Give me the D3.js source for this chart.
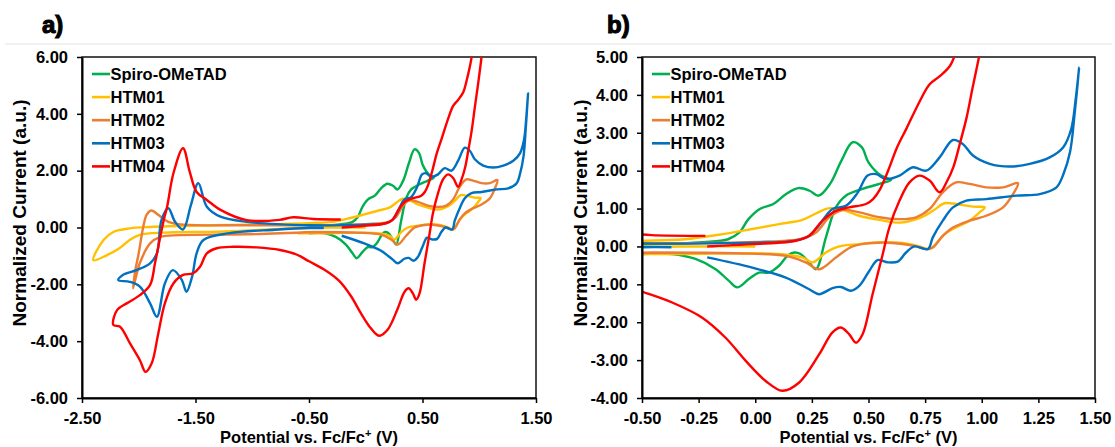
<!DOCTYPE html>
<html lang="en">
<head>
<meta charset="utf-8">
<title>Cyclic voltammetry</title>
<style>
  body { margin: 0; background: #fff; font-family: "Liberation Sans", Arial, sans-serif; }
  .tick text { font-size: 16.5px; font-weight: bold; fill: #000; font-family: "Liberation Sans", Arial, sans-serif; }
  .tick line { stroke: #000; stroke-width: 1.5px; }
  .domain { stroke: #000; stroke-width: 2px; }
  .title { font-size: 16.5px; font-weight: bold; fill: #000; }
  .ytitle { font-size: 19px; font-weight: bold; fill: #000; }
  .panel-label { font-size: 24px; font-weight: bold; fill: #000; stroke: #000; stroke-width: 1.1px; }
  .legend text { font-size: 16.5px; font-weight: bold; fill: #000; }
</style>
</head>
<body>
<svg id="chart" width="1115" height="447"></svg>
<script src="https://d3js.org/d3.v7.min.js"></script>
<script>

// series names and colours
var seriesNames = ["Spiro-OMeTAD", "HTM01", "HTM02", "HTM03", "HTM04"];
var seriesColors = ["#00B050", "#FFC000", "#ED7D31", "#0070C0", "#FF0000"];

// potential (V), normalized current (a.u.)
var spiro = [[-0.50, 0.05], [-0.23, 0.11], [-0.12, 0.19], [-0.07, 0.37], [-0.03, 0.72], [0.02, 0.99],
  [0.08, 1.12], [0.135, 1.38], [0.19, 1.54], [0.24, 1.47], [0.28, 1.34], [0.33, 1.65], [0.38, 2.26],
  [0.43, 2.75], [0.47, 2.62], [0.50, 2.22], [0.555, 1.87], [0.60, 1.76], [0.548, 1.65], [0.474, 1.52],
  [0.40, 1.34], [0.356, 1.03], [0.312, 0.24], [0.268, -0.6], [0.238, -0.42], [0.20, -0.2], [0.172, -0.16],
  [0.142, -0.25], [0.105, -0.51], [0.06, -0.69], [0.017, -0.69], [-0.028, -0.86], [-0.08, -1.08],
  [-0.116, -0.91], [-0.175, -0.6], [-0.264, -0.33], [-0.367, -0.2], [-0.5, -0.2]];

var htm01 = [[0.0, 0.0], [-0.25, 0.0], [-0.5, -0.01], [-0.9, -0.08], [-1.3, -0.15], [-1.78, -0.18],
  [-1.99, -0.26], [-2.08, -0.44], [-2.17, -0.73], [-2.28, -0.97], [-2.40, -1.15], [-2.31, -0.44],
  [-2.22, -0.15], [-2.08, -0.03], [-1.9, 0.02], [-1.34, 0.08], [-0.8, 0.12], [-0.5, 0.15], [-0.31, 0.19],
  [-0.16, 0.31], [-0.013, 0.46], [0.105, 0.59], [0.208, 0.70], [0.268, 0.87], [0.327, 1.01], [0.40, 0.94],
  [0.459, 0.81], [0.548, 0.70], [0.637, 0.63], [0.725, 0.75], [0.784, 0.94], [0.836, 1.14], [0.887, 1.12],
  [0.961, 1.05], [1.013, 1.03], [0.99, 0.9], [0.946, 0.68], [0.873, 0.46], [0.828, 0.28], [0.79, 0.02],
  [0.77, -0.07], [0.725, 0.0], [0.651, 0.09], [0.548, 0.11], [0.459, 0.06], [0.371, 0.0], [0.312, -0.16],
  [0.253, -0.42], [0.208, -0.29], [0.105, -0.2], [-0.042, -0.18], [-0.308, -0.2], [-0.6, -0.2]];

var htm02 = [[-0.45, -0.16], [-1.05, -0.24], [-1.64, -0.27], [-1.81, -0.33], [-1.9, -0.56], [-1.99, -1.25],
  [-2.05, -2.14], [-2.03, -1.5], [-2.0, -0.9], [-1.96, 0.03], [-1.93, 0.45], [-1.89, 0.6], [-1.82, 0.42],
  [-1.74, 0.2], [-1.6, 0.1], [-1.0, 0.08], [-0.5, 0.08], [0.0, 0.12], [0.2, 0.2], [0.268, 0.37],
  [0.327, 0.77], [0.386, 0.96], [0.459, 0.9], [0.548, 0.77], [0.637, 0.72], [0.71, 0.77], [0.77, 0.99],
  [0.828, 1.43], [0.887, 1.69], [0.946, 1.65], [1.02, 1.56], [1.094, 1.56], [1.16, 1.67], [1.138, 1.38],
  [1.094, 1.03], [1.02, 0.81], [0.946, 0.68], [0.873, 0.5], [0.828, 0.28], [0.784, -0.03], [0.755, -0.07],
  [0.696, 0.02], [0.607, 0.09], [0.518, 0.09], [0.43, 0.0], [0.356, -0.29], [0.282, -0.6], [0.223, -0.42],
  [0.135, -0.25], [-0.087, -0.18], [-0.45, -0.16]];

var htm03 = [[-0.37, -0.02], [-0.5, -0.02], [-0.8, -0.08], [-1.2, -0.2], [-1.43, -0.44], [-1.49, -0.91],
  [-1.53, -1.73], [-1.58, -2.26], [-1.62, -1.85], [-1.70, -1.5], [-1.77, -1.97], [-1.84, -3.14],
  [-1.90, -2.67], [-1.99, -2.08], [-2.08, -1.91], [-2.18, -1.85], [-2.14, -1.67], [-2.02, -1.5],
  [-1.90, -1.26], [-1.84, -0.91], [-1.80, 0.26], [-1.74, 0.68], [-1.68, 0.2], [-1.61, -0.07],
  [-1.54, 0.8], [-1.475, 1.56], [-1.40, 0.73], [-1.28, 0.38], [-1.05, 0.2], [-0.5, 0.08], [0.0, 0.1],
  [0.15, 0.13], [0.23, 0.25], [0.28, 0.55], [0.341, 0.99], [0.40, 1.07], [0.45, 1.4], [0.496, 1.87],
  [0.533, 1.91], [0.577, 1.78], [0.637, 1.87], [0.696, 2.09], [0.755, 2.0], [0.814, 2.35], [0.873, 2.81],
  [0.917, 2.7], [0.961, 2.4], [1.035, 2.18], [1.124, 2.11], [1.212, 2.18], [1.30, 2.35], [1.36, 2.62],
  [1.395, 3.1], [1.415, 3.9], [1.43, 4.72], [1.41, 3.5], [1.39, 2.5], [1.36, 1.9], [1.33, 1.56],
  [1.256, 1.38], [1.153, 1.34], [1.02, 1.25], [0.932, 1.21], [0.873, 1.03], [0.828, 0.68], [0.784, 0.24],
  [0.762, -0.07], [0.703, 0.0], [0.666, -0.16], [0.629, -0.4], [0.585, -0.42], [0.54, -0.36],
  [0.504, -0.64], [0.459, -1.04], [0.422, -1.17], [0.378, -1.07], [0.341, -1.1], [0.282, -1.26],
  [0.238, -1.13], [0.135, -0.82], [-0.013, -0.56], [-0.212, -0.29]];

var htm04 = [[-0.22, 0.28], [-0.46, 0.30], [-0.64, 0.36], [-0.76, 0.27], [-1.05, 0.26], [-1.28, 0.62],
  [-1.40, 0.97], [-1.49, 1.25], [-1.55, 1.95], [-1.61, 2.79], [-1.695, 1.9], [-1.75, 0.73], [-1.78, 0.26],
  [-1.81, -0.32], [-1.857, -1.26], [-1.90, -2.02], [-1.99, -2.38], [-2.106, -2.67], [-2.19, -2.9],
  [-2.224, -3.43], [-2.165, -3.49], [-2.077, -4.08], [-1.99, -4.67], [-1.94, -5.08], [-1.886, -4.78],
  [-1.828, -3.73], [-1.77, -2.67], [-1.695, -1.97], [-1.61, -1.67], [-1.52, -1.61], [-1.46, -1.38],
  [-1.40, -0.91], [-1.313, -0.73], [-1.167, -0.68], [-0.96, -0.7], [-0.756, -0.79], [-0.61, -0.95],
  [-0.5, -1.19], [-0.367, -1.48], [-0.234, -1.88], [-0.131, -2.41], [-0.042, -3.02], [0.046, -3.55],
  [0.12, -3.81], [0.194, -3.59], [0.282, -2.85], [0.341, -2.27], [0.378, -2.14], [0.415, -2.32],
  [0.445, -2.54], [0.474, -2.32], [0.518, -1.26], [0.563, -0.2], [0.592, 0.5], [0.637, 1.21],
  [0.681, 1.69], [0.725, 1.87], [0.77, 1.74], [0.814, 1.43], [0.845, 1.7], [0.875, 2.1], [0.905, 2.75],
  [0.933, 3.4], [0.96, 4.2], [0.989, 5.03], [1.02, 6.0], [1.035, 6.6], [0.95, 6.6], [0.933, 6.0],
  [0.89, 5.19], [0.86, 4.77], [0.816, 4.5], [0.77, 4.28], [0.727, 3.84], [0.669, 3.13], [0.625, 2.6],
  [0.586, 1.99], [0.55, 1.5], [0.52, 1.25], [0.489, 1.12], [0.415, 1.03], [0.356, 0.94], [0.297, 0.68],
  [0.238, 0.28], [0.179, 0.15], [-0.013, 0.06], [-0.212, 0.0]];

var allSeries = [spiro, htm01, htm02, htm03, htm04];

// tick values
var xTicksA = [-2.5, -1.5, -0.5, 0.5, 1.5];
var yTicksA = [-6, -4, -2, 0, 2, 4, 6];
var xTicksB = [-0.5, -0.25, 0, 0.25, 0.5, 0.75, 1.0, 1.25, 1.5];
var yTicksB = [-4, -3, -2, -1, 0, 1, 2, 3, 4, 5];

var panels = [
  { label: "a)", labelX: 42, left: 82, right: 536, top: 57, bottom: 398,
    xDomain: [-2.5, 1.5], yDomain: [-6, 6], xTicks: xTicksA, yTicks: yTicksA, yTitleX: 19 },
  { label: "b)", labelX: 607, left: 642, right: 1095, top: 57, bottom: 398,
    xDomain: [-0.5, 1.5], yDomain: [-4, 5], xTicks: xTicksB, yTicks: yTicksB, yTitleX: 580 }
];

var svg = d3.select("#chart");
svg.append("rect").attr("width", 1115).attr("height", 447).attr("fill", "#fff");

// faint frame line under the panel letters
svg.append("line")
  .attr("x1", 5).attr("x2", 1112).attr("y1", 44).attr("y2", 44)
  .attr("stroke", "#e4e4e4").attr("stroke-width", 1);

var fmt = function (d) { return d.toFixed(2); };

panels.forEach(function (p, pi) {
  var x = d3.scaleLinear().domain(p.xDomain).range([p.left, p.right]);
  var y = d3.scaleLinear().domain(p.yDomain).range([p.bottom, p.top]);
  var g = svg.append("g");

  var clipId = "clip" + pi;
  g.append("clipPath").attr("id", clipId)
    .append("rect")
    .attr("x", p.left).attr("y", p.top)
    .attr("width", p.right - p.left).attr("height", p.bottom - p.top);

  // plot frame
  g.append("rect")
    .attr("x", p.left).attr("y", p.top)
    .attr("width", p.right - p.left).attr("height", p.bottom - p.top)
    .attr("fill", "none").attr("stroke", "#111").attr("stroke-width", 1.5);

  var line = d3.line()
    .x(function (d) { return x(d[0]); })
    .y(function (d) { return y(d[1]); })
    .curve(d3.curveCatmullRom.alpha(0.5));

  var curves = g.append("g").attr("clip-path", "url(#" + clipId + ")");
  allSeries.forEach(function (s, i) {
    curves.append("path")
      .attr("d", line(s))
      .attr("fill", "none")
      .attr("stroke", seriesColors[i])
      .attr("stroke-width", 2.4)
      .attr("stroke-linejoin", "round");
  });

  g.append("g")
    .attr("transform", "translate(0," + p.bottom + ")")
    .call(d3.axisBottom(x).tickValues(p.xTicks).tickFormat(fmt).tickSize(5).tickSizeOuter(0).tickPadding(9));

  g.append("g")
    .attr("transform", "translate(" + p.left + ",0)")
    .call(d3.axisLeft(y).tickValues(p.yTicks).tickFormat(fmt).tickSize(5).tickSizeOuter(0).tickPadding(9));

  // axis titles
  g.append("text")
    .attr("class", "title")
    .attr("x", (p.left + p.right) / 2)
    .attr("y", 443)
    .attr("text-anchor", "middle")
    .text("Potential vs. Fc/Fc");
  g.select("text.title")
    .append("tspan").attr("dy", -6).attr("font-size", 11).text("+");
  g.select("text.title")
    .append("tspan").attr("dy", 6).text(" (V)");

  g.append("text")
    .attr("class", "ytitle")
    .attr("transform", "translate(" + p.yTitleX + ",213) rotate(-90)")
    .attr("text-anchor", "middle")
    .attr("dy", "0.35em")
    .text("Normalized Current (a.u.)");

  // panel letter
  g.append("text")
    .attr("class", "panel-label")
    .attr("x", p.labelX).attr("y", 33)
    .text(p.label);

  // legend
  var leg = g.append("g").attr("class", "legend");
  seriesNames.forEach(function (name, i) {
    var ly = 74 + i * 23.1;
    leg.append("line")
      .attr("x1", p.left + 10).attr("x2", p.left + 28)
      .attr("y1", ly).attr("y2", ly)
      .attr("stroke", seriesColors[i]).attr("stroke-width", 2.6);
    leg.append("text")
      .attr("x", p.left + 28.5).attr("y", ly)
      .attr("dy", "0.36em")
      .text(name);
  });
});

</script>
</body>
</html>
